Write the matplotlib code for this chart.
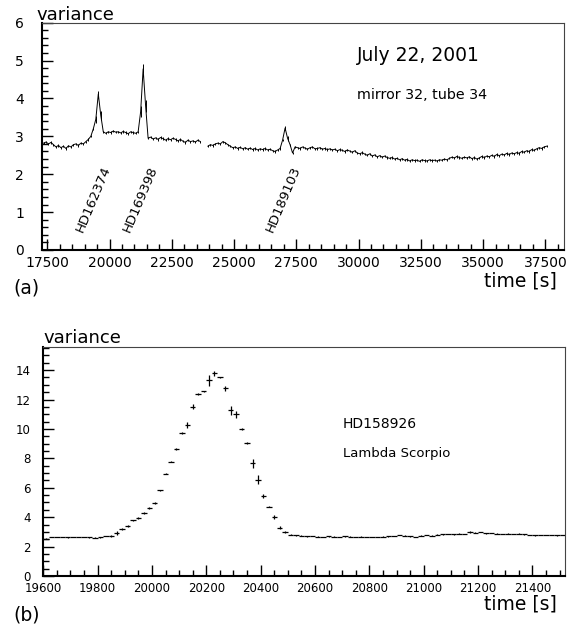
#Variance vs time, two panels (night scan and one star transit)
import numpy as np
import matplotlib.pyplot as plt
from matplotlib.ticker import MultipleLocator

plt.rcParams['font.family'] = ['DejaVu Sans']

# panel (a): variance every 100 s, from 17350 s on
t0_a = 17350
dt_a = 100
var_a = [2.82, 2.85, 2.80, 2.84, 2.78, 2.72, 2.76, 2.70, 2.74, 2.68,
         2.75, 2.72, 2.78, 2.80, 2.76, 2.82, 2.80, 2.86, 2.92, 3.00,
         3.20, 3.45, 4.12, 3.55, 3.12, 3.08, 3.12, 3.10, 3.14, 3.11,
         3.12, 3.09, 3.13, 3.10, 3.07, 3.12, 3.10, 3.08, 3.12, 3.65,
         4.78, 3.80, 2.95, 2.98, 2.93, 2.96, 2.92, 2.97, 2.94, 2.90,
         2.94, 2.91, 2.95, 2.92, 2.88, 2.92, 2.87, 2.84, 2.90, 2.86,
         2.88, 2.85, 2.90, 2.86, np.nan, np.nan, 2.74, 2.78, 2.76, 2.80,
         2.82, 2.80, 2.86, 2.83, 2.78, 2.74, 2.70, 2.72, 2.68, 2.71,
         2.67, 2.70, 2.66, 2.69, 2.65, 2.68, 2.64, 2.67, 2.65, 2.68,
         2.64, 2.66, 2.62, 2.60, 2.64, 2.68, 2.90, 3.22, 2.95, 2.78,
         2.56, 2.72, 2.70, 2.68, 2.72, 2.69, 2.66, 2.70, 2.72, 2.67,
         2.68, 2.70, 2.66, 2.68, 2.65, 2.67, 2.64, 2.66, 2.62, 2.65,
         2.63, 2.60, 2.64, 2.61, 2.58, 2.62, 2.56, 2.54, 2.57, 2.53,
         2.50, 2.54, 2.48, 2.51, 2.46, 2.49, 2.45, 2.48, 2.44, 2.42,
         2.44, 2.40, 2.42, 2.38, 2.41, 2.37, 2.39, 2.35, 2.38, 2.36,
         2.37, 2.34, 2.38, 2.36, 2.35, 2.38, 2.36, 2.37, 2.35, 2.38,
         2.37, 2.40, 2.38, 2.42, 2.45, 2.43, 2.47, 2.44, 2.42, 2.45,
         2.43, 2.46, 2.41, 2.44, 2.40, 2.43, 2.47, 2.44, 2.48, 2.46,
         2.50, 2.47, 2.52, 2.49, 2.53, 2.51, 2.55, 2.52, 2.56, 2.54,
         2.57, 2.55, 2.60, 2.58, 2.62, 2.60, 2.65, 2.63, 2.67, 2.70,
         2.68, 2.72, 2.74]
# larger errors on the star peaks (time: error), rest 0.03
err_peaks_a = {19450: 0.10, 19550: 0.08, 19650: 0.12,
               21250: 0.15, 21350: 0.12, 21450: 0.15, 27050: 0.06, 27150: 0.06}
stars_a = ['HD162374', 'HD169398', 'HD189103']
star_pos_a = [19334, 21220, 26998]

# panel (b): 20 s bins
t0_b = 19610
dt_b = 20
var_b = [2.55, 2.65, 2.66, 2.65, 2.63, 2.64, 2.65, 2.66, 2.62, 2.60,
         2.62, 2.72, 2.72, 2.93, 3.22, 3.40, 3.78, 3.95, 4.30, 4.62,
         4.95, 5.82, 6.97, 7.78, 8.62, 9.72, 10.25, 11.52, 12.38, 12.55,
         13.30, 13.78, 13.50, 12.75, 11.28, 11.00, 9.98, 9.05, 7.65, 6.55,
         5.45, 4.72, 4.02, 3.28, 2.98, 2.82, 2.76, 2.74, 2.70, 2.72,
         2.68, 2.66, 2.70, 2.68, 2.64, 2.70, 2.68, 2.66, 2.68, 2.66,
         2.65, 2.66, 2.68, 2.70, 2.72, 2.80, 2.74, 2.70, 2.66, 2.74,
         2.78, 2.74, 2.82, 2.84, 2.86, 2.84, 2.88, 2.86, 3.00, 2.94,
         2.98, 2.90, 2.92, 2.88, 2.86, 2.88, 2.86, 2.88, 2.84, 2.80,
         2.76, 2.80, 2.78, 2.78, 2.76, 2.78]
err_b = [0.02]*12 + [0.05, 0.12, 0.06, 0.05, 0.06, 0.08, 0.05, 0.05,
         0.05, 0.05, 0.06, 0.06, 0.05, 0.06, 0.20, 0.15, 0.06, 0.05,
         0.35, 0.15, 0.05, 0.20, 0.30, 0.25, 0.06, 0.05, 0.30, 0.30,
         0.15, 0.06, 0.15, 0.10, 0.05, 0.03] + [0.02]*32 + [0.08] + [0.02]*17

t_a = t0_a + dt_a*np.arange(len(var_a))
err_a = np.array([err_peaks_a.get(int(t), 0.03) for t in t_a])
t_b = t0_b + dt_b*np.arange(len(var_b))

fig = plt.figure(figsize=(5.78, 6.27), dpi=100)

def frame(ax, size, ypad):
    for s in ['left', 'bottom']:
        ax.spines[s].set_linewidth(1.5)
    for s in ['top', 'right']:
        ax.spines[s].set_linewidth(0.8)
        ax.spines[s].set_color('#444444')
    ax.tick_params(which='both', direction='in', top=False, right=False, width=1)
    ax.tick_params(which='major', length=8, labelsize=size)
    ax.tick_params(which='minor', length=4)
    ax.tick_params(axis='x', pad=4)
    ax.tick_params(axis='y', pad=ypad)

# ---- panel (a)
ax1 = fig.add_axes([0.0727, 0.6013, 0.9031, 0.3625])
ax1.plot(t_a, var_a, color='k', lw=0.7)
ax1.errorbar(t_a, var_a, yerr=err_a, fmt='none', ecolor='k', elinewidth=0.7)
ax1.set_xlim(17290, 38250)
ax1.set_ylim(0, 6)
ax1.xaxis.set_major_locator(MultipleLocator(2500))
ax1.xaxis.set_minor_locator(MultipleLocator(500))
ax1.yaxis.set_major_locator(MultipleLocator(1))
ax1.yaxis.set_minor_locator(MultipleLocator(0.2))
frame(ax1, 10, 13)
for name, x in zip(stars_a, star_pos_a):
    ax1.text(x, 1.34, name, rotation=67, ha='center', va='center', fontsize=9.5)
ax1.text(29930, 5.13, 'July 22, 2001', fontsize=13.5, ha='left', va='center')
ax1.text(29930, 4.08, 'mirror 32, tube 34', fontsize=10.3, ha='left', va='center')

# ---- panel (b)
ax2 = fig.add_axes([0.0749, 0.0813, 0.9026, 0.3648])
ax2.errorbar(t_b, var_b, xerr=dt_b/2, yerr=err_b, fmt='none', ecolor='k', elinewidth=0.9)
ax2.set_xlim(19600, 21520)
ax2.set_ylim(0, 15.55)
ax2.xaxis.set_major_locator(MultipleLocator(200))
ax2.xaxis.set_minor_locator(MultipleLocator(50))
ax2.yaxis.set_major_locator(MultipleLocator(2))
ax2.yaxis.set_minor_locator(MultipleLocator(0.5))
frame(ax2, 8.5, 9)
ax2.text(20702, 10.34, 'HD158926', fontsize=10, ha='left', va='center')
ax2.text(20702, 8.3, 'Lambda Scorpio', fontsize=9.5, ha='left', va='center')

# labels outside the frames (pixel positions / figure size)
W, H = 578.0, 627.0
fig.text(36/W, 1-15/H, 'variance', fontsize=13, ha='left', va='center')
fig.text(557/W, 1-281/H, 'time [s]', fontsize=13.5, ha='right', va='center')
fig.text(13/W, 1-288/H, '(a)', fontsize=13.5, ha='left', va='center')
fig.text(43/W, 1-338/H, 'variance', fontsize=13, ha='left', va='center')
fig.text(557/W, 1-604/H, 'time [s]', fontsize=13.5, ha='right', va='center')
fig.text(13/W, 1-615/H, '(b)', fontsize=13.5, ha='left', va='center')

plt.savefig('out.png', dpi=100)
